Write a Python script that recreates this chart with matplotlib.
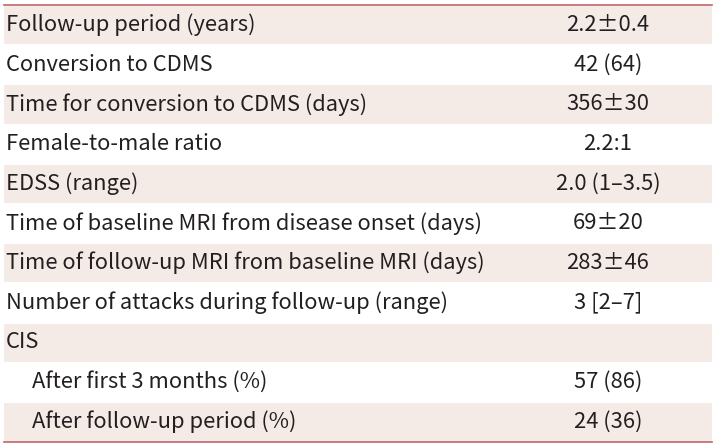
import matplotlib.pyplot as plt
from matplotlib.patches import Rectangle

plt.rcParams['font.family'] = ['Noto Sans CJK KR', 'DejaVu Sans']

labels = [
    "Follow-up period (years)",
    "Conversion to CDMS",
    "Time for conversion to CDMS (days)",
    "Female-to-male ratio",
    "EDSS (range)",
    "Time of baseline MRI from disease onset (days)",
    "Time of follow-up MRI from baseline MRI (days)",
    "Number of attacks during follow-up (range)",
    "CIS",
    "After first 3 months (%)",
    "After follow-up period (%)",
]
values = ["2.2\u00b10.4", "42 (64)", "356\u00b130", "2.2:1", "2.0 (1\u20133.5)",
          "69\u00b120", "283\u00b146", "3 [2\u20137]", "", "57 (86)", "24 (36)"]
indent = [0, 0, 0, 0, 0, 0, 0, 0, 0, 1, 1]

W, H = 717, 448
SHADE, LINE = "#F4EBE7", "#C0646A"
top, pitch = 5, 39.7
x0, x1 = 4, 712

fig = plt.figure(figsize=(W / 100, H / 100), dpi=100)
ax = fig.add_axes([0, 0, 1, 1])
ax.set_xlim(0, W); ax.set_ylim(H, 0); ax.axis("off")

for i, (lab, val, ind) in enumerate(zip(labels, values, indent)):
    y = top + i * pitch
    if i % 2 == 0:
        ax.add_patch(Rectangle((x0, y + 1), x1 - x0, pitch - 1.5, color=SHADE, lw=0))
    yc = y + pitch / 2
    ax.text(6 + 26 * ind, yc, lab, fontsize=15.8, va="center", ha="left", color="#231f20")
    ax.text(608, yc, val, fontsize=15.8, va="center", ha="center", color="#231f20")

ax.plot([x0, x1], [top, top], color=LINE, lw=1.2)
bot = top + len(labels) * pitch
ax.plot([x0, x1], [bot, bot], color=LINE, lw=1.2)

fig.savefig("out.png", dpi=100)
